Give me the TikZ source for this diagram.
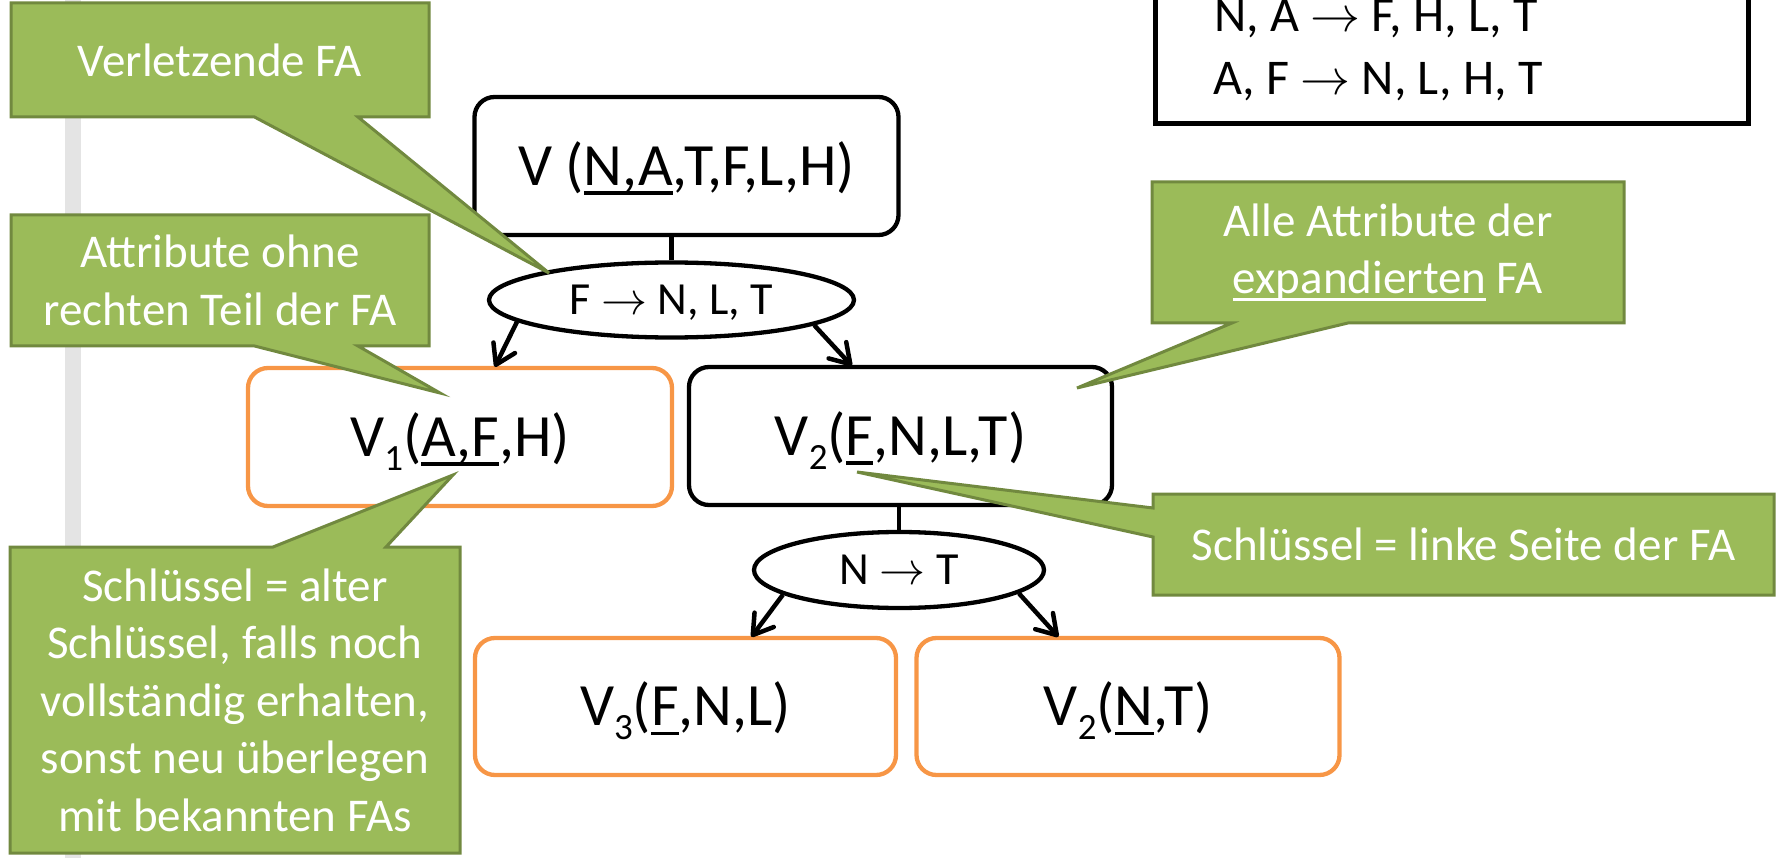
\RequirePackage{fix-cm}
\documentclass[tikz,border=0pt]{standalone}
\usepackage{fontspec}
\setmainfont{Carlito}
\usetikzlibrary{shapes.geometric,arrows.meta,calc}
\definecolor{cgreen}{HTML}{9BBB59}
\definecolor{cgreenD}{HTML}{71893F}
\definecolor{corange}{HTML}{F79646}
\definecolor{cbar}{HTML}{E4E4E4}
\newcommand\ulx[1]{\setbox0\hbox{#1}\rlap{\rule[-0.16em]{\wd0}{0.065em}}\box0\relax}
\newcommand\subx[1]{\raisebox{-0.23em}{\fontsize{37}{37}\selectfont #1}}
\newcommand\rarr{$\rightarrow$}
\begin{document}
\begin{tikzpicture}[x=1pt,y=-1pt,
  boxb/.style={draw=black, line width=4.3pt, rounded corners=20pt, minimum width=424pt,
    minimum height=138pt, inner sep=0pt, font=\fontsize{60}{72}\selectfont,
    text height=38.6pt, text depth=0pt},
  boxo/.style={boxb, draw=corange},
  ell/.style={draw, ellipse, line width=4.3pt, inner sep=0pt,
    font=\fontsize{46}{54}\selectfont, text height=29.5pt, text depth=0pt},
  conn/.style={line width=4.3pt},
  arr/.style={line width=4.5pt, -{Straight Barb[length=19pt,width=24pt,line cap=round,line join=round]}},
  call/.style={fill=cgreen, draw=cgreenD, line width=3pt},
  ctext/.style={text=white, align=center, font=\fontsize{47}{57.5}\selectfont, inner sep=0pt},
  fdtext/.style={anchor=base west, inner sep=0pt, font=\fontsize{50}{60}\selectfont}
]
\useasboundingbox (0,0) rectangle (1777,858);
\fill[cbar] (65,0) rectangle (81,858);

% functional dependencies box
\node[draw, line width=4.5pt, minimum width=593pt, minimum height=160pt, inner sep=0pt,
  anchor=south west] (fd) at (1153,126) {};
\node[fdtext] (fd1) at (1214,32) {N, A \rarr\ F, H, L, T};
\node[fdtext] (fd2) at (1213,95) {A, F \rarr\ N, L, H, T};

% tree
\node[boxb] (V) at (686.5,166) {V (\ulx{N,A},T,F,L,H)};
\node[ell, minimum width=365pt, minimum height=75pt] (e1) at (671.5,300) {F \rarr\ N, L, T};
\node[boxo] (V1) at (460,437) {V\subx{1}(\ulx{A,F},H)};
\node[boxb, minimum width=423pt] (V2) at (900.5,436) {V\subx{2}(\ulx{F},N,L,T)};
\node[ell, minimum width=290pt, minimum height=76pt] (e2) at (899,570) {N \rarr\ T};
\node[boxo, minimum width=421pt, minimum height=137pt] (V3) at (685.5,706.5) {V\subx{3}(\ulx{F},N,L)};
\node[boxo, minimum width=423pt, minimum height=137pt] (V4) at (1128,706.5) {V\subx{2}(\ulx{N},T)};

\draw[conn] (e1.north) -- (e1.north |- V.south);
\draw[conn] (e2.north) -- (e2.north |- V2.south);
\draw[arr] (e1.188.8) -- ([xshift=249pt,yshift=-1pt]V1.north west);
\draw[arr] (e1.350.3) -- ([xshift=165pt,yshift=-1pt]V2.north west);
\draw[arr] (e2.192.6) -- ([xshift=278.6pt,yshift=-1pt]V3.north west);
\draw[arr] (e2.349.5) -- ([xshift=144pt,yshift=-1pt]V4.north west);

% callouts
\filldraw[call] (11,3) -- (429,3) -- (429,117) -- (358,117) -- (549,273) -- (254.5,117) -- (11,117) -- cycle;
\node[ctext] (c1) at (220,60) {Verletzende FA};
\filldraw[call] (11,215) -- (429,215) -- (429,346) -- (358,346) -- (440,393) -- (254.5,346) -- (11,346) -- cycle;
\node[ctext] (c2) at (220,280.5) {Attribute ohne\\rechten Teil der FA};
\filldraw[call] (1152,182) -- (1624,182) -- (1624,323) -- (1348,323) -- (1077,388) -- (1232,323) -- (1152,323) -- cycle;
\node[ctext] (c3) at (1388,252.5) {Alle Attribute der\\\ulx{expandierten} FA};
\filldraw[call] (1153,494) -- (1774,494) -- (1774,595) -- (1153,595) -- (1153,537) -- (857,472) -- (1153,508) -- cycle;
\node[ctext] (c4) at (1463.5,544.5) {Schlüssel = linke Seite der FA};
\filldraw[call] (10,547) -- (273,547) -- (453,475) -- (386,547) -- (460,547) -- (460,853) -- (10,853) -- cycle;
\node[ctext] (c5) at (235,700) {Schlüssel = alter\\Schlüssel, falls noch\\vollständig erhalten,\\sonst neu überlegen\\mit bekannten FAs};
\end{tikzpicture}
\end{document}
